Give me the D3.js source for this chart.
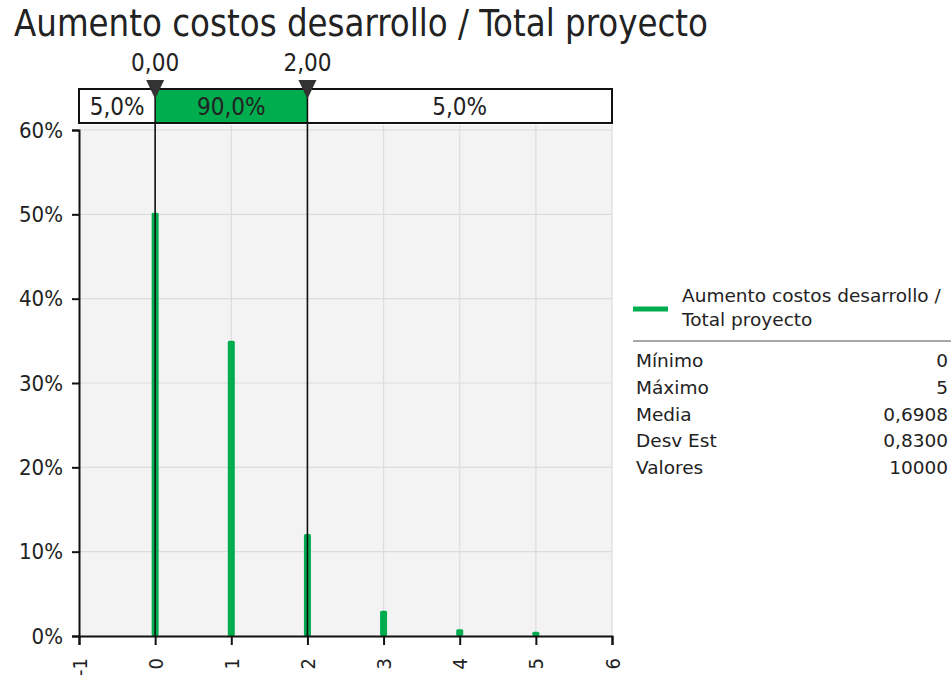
<!DOCTYPE html>
<html>
<head>
<meta charset="utf-8">
<script src="https://cdn.jsdelivr.net/npm/d3@7"></script>
<style>
  body { margin: 0; background: #fff; }
  svg text { font-family: "DejaVu Sans Condensed", "DejaVu Sans", sans-serif; font-stretch: condensed; fill: #222; }
  svg text.side { font-family: "DejaVu Sans", sans-serif; font-stretch: normal; }
</style>
</head>
<body>
<div id="chart"></div>
<script>
// chart data
const title = 'Aumento costos desarrollo / Total proyecto';
const xValues = [0, 1, 2, 3, 4, 5];
const probabilities = [0.502, 0.350, 0.121, 0.030, 0.008, 0.005];
const xTicks = [-1, 0, 1, 2, 3, 4, 5, 6];
const yTicks = [0, 0.1, 0.2, 0.3, 0.4, 0.5, 0.6];
const delimiters = [0, 2];
const delimiterLabels = ['0,00', '2,00'];
const bandLabels = ['5,0%', '90,0%', '5,0%'];
const legendLines = ['Aumento costos desarrollo /', 'Total proyecto'];
const statNames = ['Mínimo', 'Máximo', 'Media', 'Desv Est', 'Valores'];
const statValues = ['0', '5', '0,6908', '0,8300', '10000'];

const green = '#00ad4e';
const W = 951, H = 680;
const labelSize = 22;
const bandSize = 24;
const smallSize = 18.5;

const svg = d3.select('#chart')
    .append('svg')
    .attr('width', W)
    .attr('height', H);

svg.append('text')
    .attr('x', 14)
    .attr('y', 36)
    .attr('font-size', 37)
    .attr('textLength', 694)
    .attr('lengthAdjust', 'spacingAndGlyphs')
    .text(title);

const x = d3.scaleLinear().domain([-1, 6]).range([79, 612]);
const y = d3.scaleLinear().domain([0, 0.6]).range([636, 130]);

// plot background
svg.append('rect')
    .attr('x', x(-1)).attr('y', 125)
    .attr('width', x(6) - x(-1)).attr('height', y(0) - 125)
    .attr('fill', '#f3f3f3');

// grid
svg.append('g').selectAll('line')
    .data(yTicks.slice(1))
    .enter().append('line')
    .attr('x1', x(-1)).attr('x2', x(6))
    .attr('y1', d => y(d)).attr('y2', d => y(d))
    .attr('stroke', '#dcdcdc').attr('stroke-width', 1.2);

svg.append('g').selectAll('line')
    .data(xTicks.slice(1))
    .enter().append('line')
    .attr('x1', d => x(d)).attr('x2', d => x(d))
    .attr('y1', 125).attr('y2', y(0))
    .attr('stroke', '#dcdcdc').attr('stroke-width', 1.2);

// bars
svg.append('g').selectAll('rect')
    .data(xValues)
    .enter().append('rect')
    .attr('x', d => x(d) - 3.5)
    .attr('y', (d, i) => y(probabilities[i]))
    .attr('width', 7)
    .attr('height', (d, i) => y(0) - y(probabilities[i]))
    .attr('rx', 1.5)
    .attr('fill', green);

// axes
const xAxis = svg.append('g')
    .attr('transform', `translate(0,${y(0)})`)
    .call(d3.axisBottom(x).tickValues(xTicks).tickSize(9).tickFormat(d => String(d)));
xAxis.attr('font-family', null).attr('font-size', null);
xAxis.select('.domain').attr('stroke', '#111').attr('stroke-width', 2);
xAxis.selectAll('.tick line').attr('stroke', '#111').attr('stroke-width', 2);
xAxis.selectAll('.tick text')
    .attr('font-size', 20)
    .attr('fill', '#222')
    .attr('transform', 'rotate(-90)')
    .attr('x', -22)
    .attr('y', 0)
    .attr('dy', '0.35em')
    .attr('text-anchor', 'end');

const yAxis = svg.append('g')
    .attr('transform', `translate(${x(-1)},0)`)
    .call(d3.axisLeft(y).tickValues(yTicks).tickSize(7).tickFormat(d => Math.round(d * 100) + '%'));
yAxis.attr('font-family', null).attr('font-size', null);
yAxis.select('.domain').attr('stroke', '#111').attr('stroke-width', 2);
yAxis.selectAll('.tick line').attr('stroke', '#111').attr('stroke-width', 2);
yAxis.selectAll('.tick text')
    .attr('font-size', labelSize)
    .attr('fill', '#222')
    .attr('x', -16);

// delimiter band
const bandTop = 89, bandBottom = 123;
svg.append('rect')
    .attr('x', x(-1)).attr('y', bandTop)
    .attr('width', x(6) - x(-1)).attr('height', bandBottom - bandTop)
    .attr('fill', '#fff');
svg.append('rect')
    .attr('x', x(delimiters[0])).attr('y', bandTop)
    .attr('width', x(delimiters[1]) - x(delimiters[0])).attr('height', bandBottom - bandTop)
    .attr('fill', green);
svg.append('rect')
    .attr('x', x(-1)).attr('y', bandTop)
    .attr('width', x(6) - x(-1)).attr('height', bandBottom - bandTop)
    .attr('fill', 'none')
    .attr('stroke', '#111').attr('stroke-width', 2);

const segEdges = [-1, delimiters[0], delimiters[1], 6];
svg.append('g').selectAll('text')
    .data(bandLabels)
    .enter().append('text')
    .attr('x', (d, i) => (x(segEdges[i]) + x(segEdges[i + 1])) / 2)
    .attr('y', 115)
    .attr('text-anchor', 'middle')
    .attr('font-size', bandSize)
    .text(d => d);

// delimiter lines and markers
svg.append('g').selectAll('line')
    .data(delimiters)
    .enter().append('line')
    .attr('x1', d => x(d)).attr('x2', d => x(d))
    .attr('y1', 90).attr('y2', y(0))
    .attr('stroke', '#111').attr('stroke-width', 1.6);

svg.append('g').selectAll('path')
    .data(delimiters)
    .enter().append('path')
    .attr('d', d => `M${x(d) - 9},80 L${x(d) + 9},80 L${x(d)},99 Z`)
    .attr('fill', '#333');

svg.append('g').selectAll('text')
    .data(delimiters)
    .enter().append('text')
    .attr('x', d => x(d))
    .attr('y', 71)
    .attr('text-anchor', 'middle')
    .attr('font-size', bandSize)
    .text((d, i) => delimiterLabels[i]);

// legend
svg.append('line')
    .attr('x1', 633).attr('x2', 668)
    .attr('y1', 309).attr('y2', 309)
    .attr('stroke', green).attr('stroke-width', 5);

svg.append('g').selectAll('text')
    .data(legendLines)
    .enter().append('text')
    .attr('class', 'side')
    .attr('x', 682)
    .attr('y', (d, i) => 302 + i * 24)
    .attr('font-size', smallSize)
    .text(d => d);

svg.append('line')
    .attr('x1', 633).attr('x2', 951)
    .attr('y1', 341).attr('y2', 341)
    .attr('stroke', '#888').attr('stroke-width', 1.5);

const stats = svg.append('g');
stats.selectAll('text.name')
    .data(statNames)
    .enter().append('text')
    .attr('class', 'side name')
    .attr('x', 636)
    .attr('y', (d, i) => 367 + i * 26.8)
    .attr('font-size', smallSize)
    .text(d => d);
stats.selectAll('text.val')
    .data(statValues)
    .enter().append('text')
    .attr('class', 'side val')
    .attr('x', 948)
    .attr('y', (d, i) => 367 + i * 26.8)
    .attr('text-anchor', 'end')
    .attr('font-size', smallSize)
    .text(d => d);
</script>
</body>
</html>
